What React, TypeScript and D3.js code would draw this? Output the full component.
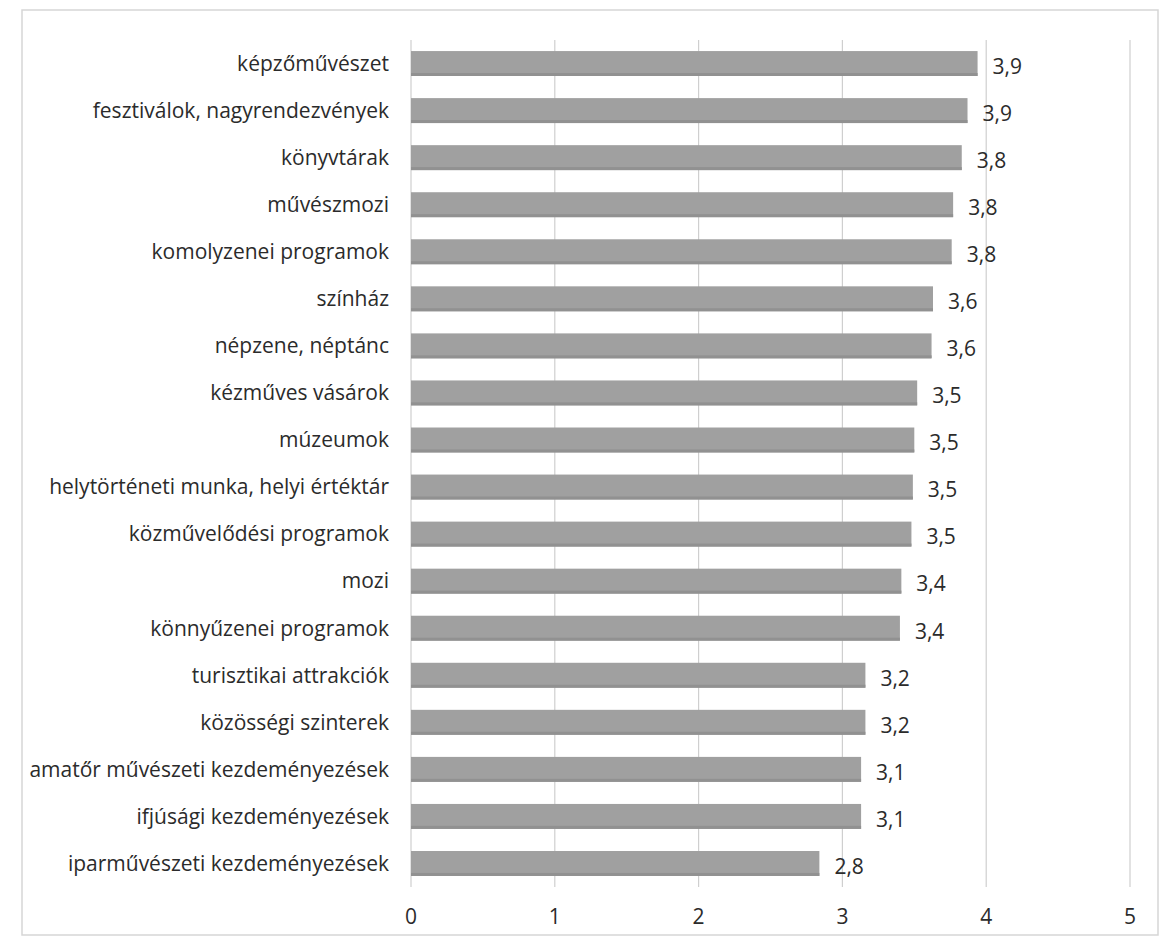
import React from "react";
import * as d3 from "d3";

const categories = [
  "képzőművészet",
  "fesztiválok, nagyrendezvények",
  "könyvtárak",
  "művészmozi",
  "komolyzenei programok",
  "színház",
  "népzene, néptánc",
  "kézműves vásárok",
  "múzeumok",
  "helytörténeti munka, helyi értéktár",
  "közművelődési programok",
  "mozi",
  "könnyűzenei programok",
  "turisztikai attrakciók",
  "közösségi szinterek",
  "amatőr művészeti kezdeményezések",
  "ifjúsági kezdeményezések",
  "iparművészeti kezdeményezések",
];

const values = [3.94, 3.87, 3.83, 3.77, 3.76, 3.63, 3.62, 3.52, 3.5, 3.49, 3.48, 3.41, 3.4, 3.16, 3.16, 3.13, 3.13, 2.84];

const xTicks = [0, 1, 2, 3, 4, 5];

const W = 1161;
const H = 945;

export default function App() {
  const x = d3.scaleLinear().domain([0, 5]).range([411, 1130]);
  const y = d3
    .scaleBand<string>()
    .domain(categories)
    .range([40, 887])
    .paddingInner(0.47)
    .paddingOuter(0.235);
  const fmt = (v: number) => d3.format(".1f")(v).replace(".", ",");
  const font = "'Open Sans', 'Noto Sans', sans-serif";
  const fs = 21;

  return (
    <svg
      width={W}
      height={H}
      style={{ position: "absolute", left: 0, top: 0, background: "#fff" }}
      fontFamily={font}
    >
      <rect x={22} y={10} width={1136} height={925} fill="#fff" stroke="#d6d6d6" strokeWidth={1.5} />
      {xTicks.map((t) => (
        <line key={"g" + t} x1={x(t)} x2={x(t)} y1={40} y2={887} stroke="#cfcfcf" strokeWidth={1.2} />
      ))}
      {categories.map((c, i) => {
        const by = y(c)!;
        const bh = y.bandwidth();
        return (
          <g key={c}>
            <rect x={x(0)} y={by} width={x(values[i]) - x(0)} height={bh} fill="#a0a0a0" />
            <rect x={x(0)} y={by + bh - 3} width={x(values[i]) - x(0)} height={3} fill="#919191" />
            <text
              x={389}
              y={by + bh / 2}
              dy="0.35em"
              textAnchor="end"
              fontSize={fs}
              fill="#2b2b2b"
            >
              {c}
            </text>
            <text
              x={x(values[i]) + 15}
              y={by + bh / 2 + 3}
              dy="0.35em"
              fontSize={fs}
              fill="#2b2b2b"
            >
              {fmt(values[i])}
            </text>
          </g>
        );
      })}
      {xTicks.map((t) => (
        <text key={"t" + t} x={x(t)} y={917} dy="0.35em" textAnchor="middle" fontSize={fs} fill="#2b2b2b">
          {t}
        </text>
      ))}
    </svg>
  );
}
